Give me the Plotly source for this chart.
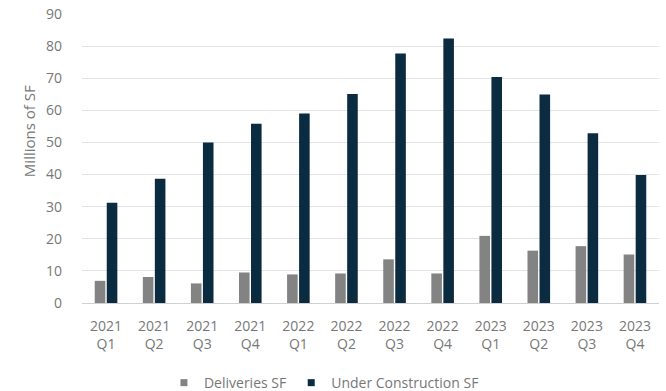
import plotly.graph_objects as go

categories = ["2021<br>Q1", "2021<br>Q2", "2021<br>Q3", "2021<br>Q4",
              "2022<br>Q1", "2022<br>Q2", "2022<br>Q3", "2022<br>Q4",
              "2023<br>Q1", "2023<br>Q2", "2023<br>Q3", "2023<br>Q4"]
deliveries = [6.9, 8.1, 6.1, 9.5, 8.9, 9.2, 13.6, 9.2, 20.9, 16.3, 17.7, 15.1]
under_construction = [31.2, 38.7, 50.0, 55.8, 59.0, 65.1, 77.7, 82.4, 70.4, 64.9, 52.9, 39.9]
series_names = ["Deliveries SF", "Under Construction SF"]
series_colors = ["#838383", "#0b2b40"]

fig = go.Figure()
for name, vals, col in zip(series_names, [deliveries, under_construction], series_colors):
    fig.add_trace(go.Bar(x=categories, y=vals, name=name, showlegend=False,
                         marker=dict(color=col, line=dict(width=0))))
# legend entries with small square symbols
for name, col in zip(series_names, series_colors):
    fig.add_trace(go.Scatter(x=[None], y=[None], mode="markers", name=name,
                             marker=dict(symbol="square", size=7, color=col)))

font_color = "#777777"
fig.update_layout(
    width=666, height=391,
    margin=dict(l=82, r=7, t=14, b=88, autoexpand=False),
    paper_bgcolor="white", plot_bgcolor="white",
    font=dict(family="Open Sans", size=14, color=font_color),
    barmode="group", bargap=0.5, bargroupgap=0.12,
    showlegend=True,
    legend=dict(orientation="h", x=0.142, xanchor="left", y=-0.277, yanchor="middle",
                font=dict(size=14, color=font_color), itemwidth=30,
                traceorder="normal", tracegroupgap=0),
    xaxis=dict(showgrid=False, showline=False, ticks="", ticklabelstandoff=13,
               tickfont=dict(size=14)),
    yaxis=dict(range=[0, 90], dtick=10, showgrid=True, gridcolor="#e3e3e3",
               zeroline=True, zerolinecolor="#d0d0d0", zerolinewidth=1,
               showline=False, ticks="", ticklabelstandoff=19,
               tickfont=dict(size=14)),
    annotations=[dict(text="Millions of SF", textangle=-90, xref="paper", yref="paper",
                      x=-0.0927, y=0.593, xanchor="center", yanchor="middle",
                      showarrow=False, font=dict(size=15, color=font_color))],
)

fig.write_html("out.html")
